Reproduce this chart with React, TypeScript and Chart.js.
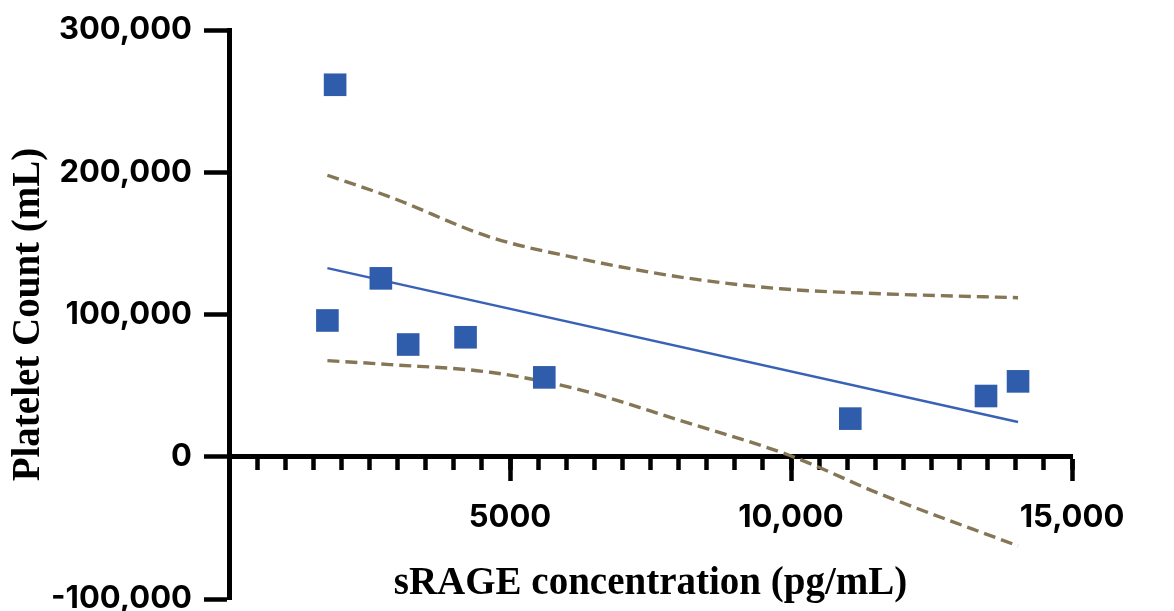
import React, { useEffect, useRef } from 'react';
import { Chart, registerables } from 'chart.js';

Chart.register(...registerables);

// Observed data (sRAGE pg/mL vs platelet count)
const sRageValues = [1888, 1751, 2702, 3188, 4209, 5610, 11055, 13470, 14040];
const plateletValues = [261500, 95800, 125400, 78900, 84000, 55800, 26800, 42700, 53000];

// Linear fit line (end points)
const fitX = [1751, 14040];
const fitY = [132600, 24400];

// 95% confidence bands
const upperBandX = [1751, 2867, 4648, 6251, 8032, 9813, 11594, 14040];
const upperBandY = [197900, 182600, 154400, 139200, 126300, 118100, 114600, 111800];
const lowerBandX = [1751, 2867, 4648, 6251, 8032, 9991, 11594, 14040];
const lowerBandY = [67600, 64800, 59400, 47000, 25400, 700, -26300, -62700];

// Tick labels
const xTickValues = [0, 5000, 10000, 15000];
const xTickLabels = ['', '5000', '10,000', '15,000'];
const yTickValues = [-100000, 0, 100000, 200000, 300000];
const yTickLabels = ['-100,000', '0', '100,000', '200,000', '300,000'];

const toPoints = (xs: number[], ys: number[]) => xs.map((x, i) => ({ x, y: ys[i] }));

export default function App() {
  const ref = useRef<HTMLCanvasElement | null>(null);

  useEffect(() => {
    if (!ref.current) return;
    const tickFont = { family: 'Inter, "Open Sans", sans-serif', size: 31, weight: 'bold' as const, lineHeight: 0.8 };
    const titleFont = { family: '"Liberation Serif", "Times New Roman", serif', size: 39, weight: 'bold' as const, lineHeight: 1.2 };
    const chart = new Chart(ref.current, {
      type: 'scatter',
      data: {
        datasets: [
          {
            label: 'Data',
            data: toPoints(sRageValues, plateletValues),
            pointStyle: 'rect',
            pointRadius: 16,
            pointHoverRadius: 16,
            backgroundColor: '#2f5cab',
            borderColor: '#2f5cab',
            borderWidth: 0,
            showLine: false,
          },
          {
            label: 'Fit',
            data: toPoints(fitX, fitY),
            showLine: true,
            borderColor: '#3962b6',
            borderWidth: 2.5,
            pointRadius: 0,
          },
          {
            label: 'Upper',
            data: toPoints(upperBandX, upperBandY),
            showLine: true,
            borderColor: '#857655',
            borderWidth: 3.4,
            borderDash: [12, 6],
            pointRadius: 0,
            cubicInterpolationMode: 'monotone',
          },
          {
            label: 'Lower',
            data: toPoints(lowerBandX, lowerBandY),
            showLine: true,
            borderColor: '#857655',
            borderWidth: 3.4,
            borderDash: [12, 6],
            pointRadius: 0,
            cubicInterpolationMode: 'monotone',
          },
        ],
      },
      options: {
        responsive: false,
        animation: false,
        clip: false as any,
        layout: { padding: { left: 0, top: 30, right: 102, bottom: 13 } },
        plugins: { legend: { display: false }, tooltip: { enabled: false } },
        scales: {
          x: {
            type: 'linear',
            position: { y: 0 } as any,
            min: 0,
            max: 15000,
            ticks: { stepSize: 500, display: false, autoSkip: false },
            grid: { drawOnChartArea: false, drawTicks: true, tickLength: 11, tickWidth: 4.5, tickColor: '#000' },
            border: { display: true, color: '#000', width: 5 },
          },
          x2: {
            type: 'linear',
            position: { y: 0 } as any,
            min: 0,
            max: 15000,
            ticks: {
              stepSize: 5000,
              autoSkip: false,
              maxRotation: 0,
              padding: 27,
              color: '#000',
              font: tickFont,
              callback: (v: any) => {
                const i = xTickValues.indexOf(Number(v));
                return i >= 0 ? xTickLabels[i] : '';
              },
            },
            grid: { drawOnChartArea: false, drawTicks: true, tickLength: 22, tickWidth: 4.5, tickColor: '#000' },
            border: { display: true, color: '#000', width: 5 },
            title: {
              display: true,
              text: 'sRAGE concentration (pg/mL)',
              color: '#000',
              font: titleFont,
              padding: { top: 3, bottom: 0 },
            },
          },
          y: {
            type: 'linear',
            position: 'left',
            min: -100000,
            max: 300000,
            afterFit: (s: any) => {
              s.width = 229;
              s.paddingTop = 0;
              s.paddingBottom = 0;
            },
            ticks: {
              stepSize: 100000,
              autoSkip: false,
              padding: 12,
              color: '#000',
              font: tickFont,
              callback: (v: any) => {
                const i = yTickValues.indexOf(Number(v));
                return i >= 0 ? yTickLabels[i] : '';
              },
            },
            grid: { drawOnChartArea: false, drawTicks: true, tickLength: 25, tickWidth: 4.5, tickColor: '#000' },
            border: { display: true, color: '#000', width: 5 },
            title: {
              display: true,
              text: 'Platelet Count (mL)',
              color: '#000',
              font: titleFont,
              padding: { top: 6, bottom: 0 },
            },
          },
        },
      } as any,
    });
    return () => chart.destroy();
  }, []);

  return (
    <div style={{ position: 'absolute', left: 0, top: 0, width: 1174, height: 611, overflow: 'hidden', background: '#fff' }}>
      <canvas ref={ref} width={1174} height={615} style={{ display: 'block' }} />
    </div>
  );
}
